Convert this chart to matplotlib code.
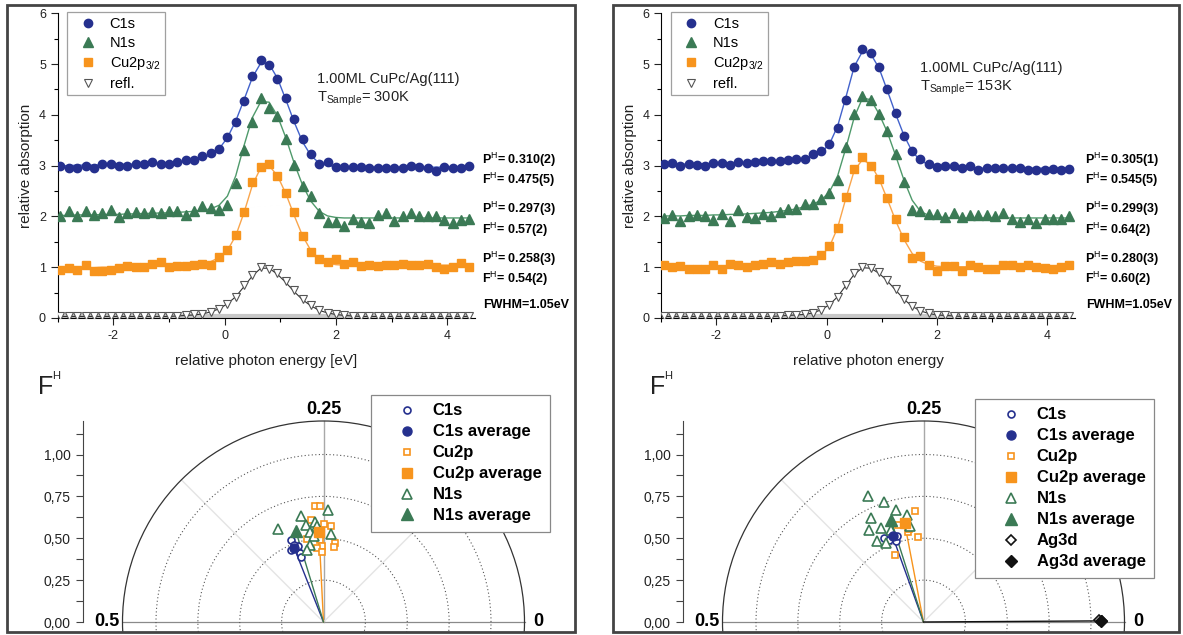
import numpy as np
import matplotlib
matplotlib.use('Agg')
import matplotlib.pyplot as plt
from matplotlib.patches import Rectangle, Circle

plt.rcParams['font.family'] = ['Liberation Sans', 'DejaVu Sans']
plt.rcParams['mathtext.fontset'] = 'custom'
plt.rcParams['mathtext.rm'] = 'Liberation Sans'
plt.rcParams['mathtext.bf'] = 'Liberation Sans:bold'
plt.rcParams['mathtext.it'] = 'Liberation Sans:italic'
plt.rcParams['axes.unicode_minus'] = False

W, H = 1183, 635

# ---------------- spectra (relative photon energy in eV) ----------------
energy = [-2.95, -2.80, -2.65, -2.50, -2.35, -2.20, -2.05, -1.90, -1.75, -1.60,
          -1.45, -1.30, -1.15, -1.00, -0.85, -0.70, -0.55, -0.40, -0.25, -0.10,
          0.05, 0.20, 0.35, 0.50, 0.65, 0.80, 0.95, 1.10, 1.25, 1.40,
          1.55, 1.70, 1.85, 2.00, 2.15, 2.30, 2.45, 2.60, 2.75, 2.90,
          3.05, 3.20, 3.35, 3.50, 3.65, 3.80, 3.95, 4.10, 4.25, 4.40]

# 300K
c1s_300 = [3.00, 2.96, 2.96, 3.00, 2.96, 3.03, 3.03, 3.00, 3.00, 3.04,
           3.04, 3.08, 3.04, 3.04, 3.08, 3.11, 3.11, 3.19, 3.25, 3.33,
           3.57, 3.85, 4.28, 4.77, 5.08, 4.98, 4.70, 4.34, 3.91, 3.52,
           3.23, 3.03, 3.07, 2.98, 2.98, 2.98, 2.98, 2.95, 2.95, 2.95,
           2.95, 2.95, 3.00, 2.97, 2.95, 2.90, 2.98, 2.96, 2.95, 3.00]
c1s_fit_300 = [3.00, 3.00, 3.01, 3.01, 3.01, 3.02, 3.02, 3.02, 3.03, 3.03,
               3.04, 3.04, 3.05, 3.05, 3.06, 3.08, 3.10, 3.14, 3.21, 3.33,
               3.55, 3.88, 4.30, 4.74, 5.02, 5.00, 4.72, 4.30, 3.86, 3.47,
               3.20, 3.05, 3.00, 2.98, 2.97, 2.97, 2.97, 2.97, 2.97, 2.97,
               2.97, 2.97, 2.97, 2.97, 2.97, 2.97, 2.97, 2.97, 2.97, 2.97]
n1s_300 = [2.00, 2.10, 2.00, 2.10, 2.03, 2.07, 2.13, 1.99, 2.07, 2.08,
           2.07, 2.09, 2.07, 2.10, 2.10, 2.03, 2.10, 2.20, 2.16, 2.13,
           2.23, 2.66, 3.30, 3.86, 4.33, 4.13, 3.97, 3.52, 3.02, 2.59,
           2.41, 2.07, 1.89, 1.89, 1.82, 1.95, 1.90, 1.87, 2.03, 2.07,
           1.91, 2.00, 2.07, 2.01, 2.01, 2.00, 1.93, 1.87, 1.93, 1.95]
n1s_fit_300 = [2.02, 2.02, 2.03, 2.03, 2.03, 2.04, 2.04, 2.04, 2.05, 2.05,
               2.06, 2.06, 2.07, 2.07, 2.08, 2.09, 2.10, 2.12, 2.15, 2.22,
               2.40, 2.80, 3.40, 3.95, 4.26, 4.25, 3.98, 3.55, 3.05, 2.62,
               2.30, 2.10, 2.01, 1.98, 1.97, 1.97, 1.97, 1.97, 1.97, 1.97,
               1.97, 1.97, 1.97, 1.97, 1.97, 1.97, 1.97, 1.97, 1.97, 1.97]
cu_300 = [0.95, 0.98, 0.95, 1.04, 0.93, 0.93, 0.95, 0.98, 1.02, 1.00,
          1.00, 1.06, 1.10, 1.00, 1.03, 1.03, 1.04, 1.06, 1.05, 1.21,
          1.34, 1.63, 2.09, 2.68, 2.98, 3.03, 2.79, 2.47, 2.09, 1.61,
          1.30, 1.16, 1.11, 1.17, 1.07, 1.10, 1.02, 1.05, 1.02, 1.04,
          1.04, 1.07, 1.04, 1.04, 1.07, 1.00, 0.97, 1.00, 1.08, 1.00]
cu_fit_300 = [0.98, 0.98, 0.99, 0.99, 0.99, 1.00, 1.00, 1.00, 1.01, 1.01,
              1.01, 1.02, 1.02, 1.03, 1.03, 1.04, 1.05, 1.07, 1.11, 1.19,
              1.33, 1.62, 2.08, 2.62, 2.96, 3.00, 2.80, 2.45, 2.02, 1.62,
              1.33, 1.16, 1.08, 1.05, 1.04, 1.04, 1.04, 1.04, 1.04, 1.04,
              1.04, 1.04, 1.04, 1.04, 1.04, 1.04, 1.04, 1.04, 1.04, 1.04]
refl_300 = [0.03, 0.03, 0.03, 0.03, 0.03, 0.03, 0.03, 0.03, 0.03, 0.03,
            0.03, 0.03, 0.03, 0.04, 0.04, 0.05, 0.07, 0.08, 0.12, 0.18,
            0.27, 0.42, 0.64, 0.84, 1.00, 0.97, 0.88, 0.73, 0.55, 0.38,
            0.25, 0.15, 0.10, 0.07, 0.05, 0.04, 0.03, 0.03, 0.03, 0.03,
            0.03, 0.03, 0.03, 0.03, 0.03, 0.03, 0.03, 0.03, 0.03, 0.03]
refl_fit_300 = [0.03, 0.03, 0.03, 0.03, 0.03, 0.03, 0.03, 0.03, 0.03, 0.03,
                0.03, 0.03, 0.03, 0.03, 0.04, 0.05, 0.06, 0.08, 0.12, 0.18,
                0.28, 0.42, 0.62, 0.83, 0.98, 0.98, 0.86, 0.70, 0.52, 0.36,
                0.24, 0.15, 0.10, 0.07, 0.05, 0.04, 0.03, 0.03, 0.03, 0.03,
                0.03, 0.03, 0.03, 0.03, 0.03, 0.03, 0.03, 0.03, 0.03, 0.03]

# 153K
c1s_153 = [3.04, 3.06, 3.00, 3.04, 3.02, 3.00, 3.05, 3.06, 3.02, 3.08,
           3.05, 3.08, 3.10, 3.10, 3.10, 3.11, 3.14, 3.14, 3.23, 3.29,
           3.43, 3.74, 4.30, 4.94, 5.29, 5.21, 4.94, 4.51, 4.03, 3.59,
           3.29, 3.13, 3.04, 2.97, 3.00, 2.99, 2.95, 2.99, 2.92, 2.96,
           2.96, 2.95, 2.95, 2.95, 2.92, 2.92, 2.92, 2.94, 2.92, 2.94]
c1s_fit_153 = [3.02, 3.02, 3.03, 3.03, 3.03, 3.04, 3.04, 3.05, 3.05, 3.06,
               3.06, 3.07, 3.08, 3.09, 3.10, 3.11, 3.12, 3.14, 3.18, 3.26,
               3.42, 3.78, 4.35, 4.95, 5.25, 5.20, 4.92, 4.48, 4.02, 3.60,
               3.28, 3.10, 3.02, 2.98, 2.97, 2.96, 2.96, 2.95, 2.95, 2.95,
               2.95, 2.95, 2.95, 2.95, 2.95, 2.95, 2.95, 2.95, 2.95, 2.95]
n1s_153 = [1.97, 2.02, 1.91, 2.01, 2.02, 2.01, 1.92, 2.05, 1.91, 2.12,
           1.99, 1.97, 2.04, 2.01, 2.09, 2.14, 2.14, 2.24, 2.24, 2.35,
           2.46, 2.72, 3.36, 4.02, 4.38, 4.30, 4.01, 3.69, 3.23, 2.68,
           2.13, 2.10, 2.05, 2.05, 1.99, 2.07, 1.99, 2.02, 2.02, 2.02,
           2.00, 2.07, 1.95, 1.89, 1.95, 1.87, 1.95, 1.95, 1.94, 2.00]
n1s_fit_153 = [2.01, 2.01, 2.01, 2.02, 2.02, 2.02, 2.03, 2.03, 2.04, 2.04,
               2.05, 2.06, 2.07, 2.08, 2.10, 2.12, 2.15, 2.19, 2.24, 2.32,
               2.48, 2.80, 3.35, 3.95, 4.33, 4.30, 4.02, 3.66, 3.20, 2.72,
               2.32, 2.10, 2.02, 1.99, 1.98, 1.97, 1.97, 1.97, 1.97, 1.97,
               1.97, 1.97, 1.97, 1.97, 1.97, 1.97, 1.97, 1.97, 1.97, 1.97]
cu_153 = [1.05, 1.00, 1.02, 0.96, 0.97, 0.97, 1.04, 0.97, 1.07, 1.04,
          1.00, 1.04, 1.07, 1.10, 1.07, 1.10, 1.12, 1.12, 1.15, 1.25,
          1.42, 1.77, 2.38, 2.94, 3.17, 3.00, 2.74, 2.36, 1.94, 1.59,
          1.19, 1.22, 1.04, 0.92, 1.02, 1.02, 0.92, 1.05, 1.00, 0.96,
          0.96, 1.04, 1.05, 1.00, 1.04, 1.00, 0.98, 0.97, 1.00, 1.04]
cu_fit_153 = [1.00, 1.00, 1.00, 1.01, 1.01, 1.01, 1.02, 1.02, 1.03, 1.03,
              1.04, 1.05, 1.06, 1.07, 1.08, 1.09, 1.10, 1.12, 1.15, 1.22,
              1.40, 1.78, 2.36, 2.90, 3.12, 3.02, 2.74, 2.34, 1.92, 1.55,
              1.27, 1.12, 1.05, 1.02, 1.01, 1.01, 1.01, 1.01, 1.01, 1.01,
              1.01, 1.01, 1.01, 1.01, 1.01, 1.01, 1.01, 1.01, 1.01, 1.01]
refl_153 = [0.03, 0.03, 0.03, 0.03, 0.03, 0.03, 0.03, 0.03, 0.03, 0.03,
            0.03, 0.03, 0.03, 0.04, 0.04, 0.05, 0.06, 0.07, 0.10, 0.15,
            0.25, 0.42, 0.65, 0.88, 1.00, 0.98, 0.90, 0.75, 0.57, 0.38,
            0.24, 0.14, 0.09, 0.06, 0.05, 0.04, 0.03, 0.03, 0.03, 0.03,
            0.03, 0.03, 0.03, 0.03, 0.03, 0.03, 0.03, 0.03, 0.03, 0.03]
refl_fit_153 = [0.03, 0.03, 0.03, 0.03, 0.03, 0.03, 0.03, 0.03, 0.03, 0.03,
                0.03, 0.03, 0.03, 0.03, 0.04, 0.05, 0.06, 0.07, 0.10, 0.16,
                0.26, 0.42, 0.64, 0.86, 0.99, 0.98, 0.88, 0.73, 0.55, 0.37,
                0.23, 0.14, 0.09, 0.06, 0.05, 0.04, 0.03, 0.03, 0.03, 0.03,
                0.03, 0.03, 0.03, 0.03, 0.03, 0.03, 0.03, 0.03, 0.03, 0.03]
refl_base = 0.03

# fit results printed next to the spectra
ph_text_300 = ['0.310(2)', '0.297(3)', '0.258(3)']
fh_text_300 = ['0.475(5)', '0.57(2)', '0.54(2)']
ph_text_153 = ['0.305(1)', '0.299(3)', '0.280(3)']
fh_text_153 = ['0.545(5)', '0.64(2)', '0.60(2)']

# ---------------- polar plot data (P^H = angle, F^H = radius) ----------------
c1s_P_300 = [0.310, 0.317, 0.302, 0.303, 0.303, 0.309]
c1s_F_300 = [0.524, 0.473, 0.477, 0.435, 0.410, 0.494]
cu_P_300 = [0.261, 0.255, 0.270, 0.249, 0.238, 0.282, 0.256, 0.253, 0.226, 0.228, 0.264, 0.253]
cu_F_300 = [0.697, 0.695, 0.616, 0.585, 0.577, 0.505, 0.491, 0.451, 0.476, 0.455, 0.443, 0.415]
n1s_P_300 = [0.243, 0.284, 0.322, 0.278, 0.263, 0.261, 0.274, 0.237, 0.268, 0.277, 0.287]
n1s_F_300 = [0.668, 0.646, 0.618, 0.590, 0.597, 0.576, 0.541, 0.527, 0.518, 0.468, 0.439]
avg_P_300 = [0.310, 0.258, 0.297]   # C1s, Cu2p, N1s
avg_F_300 = [0.475, 0.54, 0.57]

c1s_P_153 = [0.320, 0.313, 0.303, 0.297]
c1s_F_153 = [0.554, 0.532, 0.509, 0.534]
cu_P_153 = [0.262, 0.291, 0.278, 0.261, 0.314, 0.274]
cu_F_153 = [0.667, 0.601, 0.544, 0.508, 0.436, 0.562]
n1s_P_153 = [0.316, 0.301, 0.288, 0.324, 0.274, 0.317, 0.335, 0.332, 0.321, 0.272, 0.304]
n1s_F_153 = [0.823, 0.753, 0.686, 0.694, 0.648, 0.614, 0.636, 0.559, 0.522, 0.581, 0.585]
ag_P_153 = [0.002, 0.001]
ag_F_153 = [1.050, 1.066]
avg_P_153 = [0.305, 0.280, 0.299, 0.001]   # C1s, Cu2p, N1s, Ag3d
avg_F_153 = [0.545, 0.60, 0.64, 1.058]

rings = [0.25, 0.5, 0.75, 1.0]
outer_ring = 1.2
guide_P = [0.125, 0.375]
ytick_vals = [0.0, 0.25, 0.5, 0.75, 1.0]
ytick_text = ['0,00', '0,25', '0,50', '0,75', '1,00']

BLUE = '#25308e'
GREEN = '#3b7a55'
ORANGE = '#f7941d'
BLACK = '#111111'
FIT_BLUE = '#4262cc'
FIT_GREEN = '#4f9a6b'
FIT_ORANGE = '#f9a54c'

fig = plt.figure(figsize=(W / 100, H / 100), dpi=100)


def px_axes(x0, y0, x1, y1):
    return fig.add_axes([x0 / W, 1 - y1 / H, (x1 - x0) / W, (y1 - y0) / H])


def px_text(x, y, s, **kw):
    return fig.text(x / W, 1 - y / H, s, **kw)


def draw_spectra(ax, c1s, c1s_fit, n1s, n1s_fit, cu, cu_fit, refl, refl_fit, xlabel):
    ax.plot(energy, [refl_base] * len(energy), color='#c8c8c8', lw=3, zorder=1)
    ax.plot(energy, refl_fit, color='#333333', lw=0.8, zorder=2)
    ax.plot(energy, cu_fit, color=FIT_ORANGE, lw=1.0, zorder=2)
    ax.plot(energy, n1s_fit, color=FIT_GREEN, lw=1.0, zorder=2)
    ax.plot(energy, c1s_fit, color=FIT_BLUE, lw=1.0, zorder=2)
    ax.plot(energy, refl, 'v', ms=6, mfc='white', mec='#555555', mew=0.8, ls='none', zorder=3, label='refl.')
    ax.plot(energy, cu, 's', ms=5.2, color=ORANGE, ls='none', zorder=3, label='Cu2p$_{3/2}$')
    ax.plot(energy, n1s, '^', ms=6.5, color=GREEN, ls='none', zorder=3, label='N1s')
    ax.plot(energy, c1s, 'o', ms=6, color=BLUE, ls='none', zorder=3, label='C1s')

    ax.set_xlim(-3, 4.5)
    ax.set_ylim(0, 6)
    ax.set_xticks([-2, 0, 2, 4])
    ax.set_xticks([-3, -1, 1, 3], minor=True)
    ax.set_yticks([0, 1, 2, 3, 4, 5, 6])
    ax.set_yticks([0.5, 1.5, 2.5, 3.5, 4.5, 5.5], minor=True)
    ax.tick_params(which='major', direction='out', length=5, width=0.8, labelsize=9, colors='#222222')
    ax.tick_params(which='minor', direction='out', length=3, width=0.8)
    for s in ['top', 'right']:
        ax.spines[s].set_visible(False)
    for s in ['left', 'bottom']:
        ax.spines[s].set_linewidth(0.8)
    ax.set_xlabel(xlabel, fontsize=11, labelpad=9, color='#222222')
    ax.set_ylabel('relative absorption', fontsize=11, labelpad=4, color='#222222')
    ax.patch.set_alpha(0)

    handles, labels = ax.get_legend_handles_labels()
    leg = ax.legend(handles[::-1], labels[::-1], loc='upper left', bbox_to_anchor=(0.023, 1.003),
                    borderaxespad=0, fontsize=10.5, frameon=True, fancybox=False,
                    edgecolor='#888888', borderpad=0.3, handlelength=2.2, handletextpad=0.4,
                    labelspacing=0.35)
    leg.get_frame().set_linewidth(0.9)


def polar_xy(P, F):
    P = np.asarray(P)
    F = np.asarray(F)
    return F * np.cos(2 * np.pi * P), F * np.sin(2 * np.pi * P)


def draw_polar(ax, cx, x0, x1, series, avgP, avgF, avg_colors):
    unit = 167.5
    ax.set_xlim((x0 - cx) / unit, (x1 - cx) / unit)
    ax.set_ylim(-10 / unit, 242 / unit)

    # guides
    ax.plot([-outer_ring, outer_ring], [0, 0], color='#8a8a8a', lw=0.9, zorder=1)
    gx, gy = polar_xy([0.25], [outer_ring])
    ax.plot([0, gx[0]], [0, gy[0]], color='#a8a8a8', lw=1.0, zorder=1)
    for p in guide_P:
        gx, gy = polar_xy([p], [outer_ring])
        ax.plot([0, gx[0]], [0, gy[0]], color='#e4e4e4', lw=1.0, zorder=1)
    for r in rings:
        ax.add_patch(Circle((0, 0), r, fill=False, ls=(0, (1, 2.2)), lw=0.8, ec='#555555', zorder=1))
    ax.add_patch(Circle((0, 0), outer_ring, fill=False, lw=0.9, ec='#333333', zorder=1))

    # lines to the averages
    ax_, ay_ = polar_xy(avgP, avgF)
    for xx, yy, c in zip(ax_, ay_, avg_colors):
        ax.plot([0, xx], [0, yy], color=c, lw=1.0, zorder=2)

    handles = []
    labels = []
    for (name, P, F, marker, color, ms) in series:
        xs, ys = polar_xy(P, F)
        h, = ax.plot(xs, ys, marker, ls='none', ms=ms, mfc='white', mec=color, mew=1.2, zorder=3)
        handles.append(h)
        labels.append(name)
    for i, (name, P, F, marker, color, ms) in enumerate(series):
        h, = ax.plot([ax_[i]], [ay_[i]], marker, ls='none', ms=ms + 1.5, color=color, zorder=4)
        handles.insert(2 * i + 1, h)
        labels.insert(2 * i + 1, name + ' average')

    ax.spines['left'].set_bounds(0, outer_ring)
    ax.spines['left'].set_linewidth(0.8)
    ax.spines['left'].set_color('#444444')
    for s in ['top', 'right', 'bottom']:
        ax.spines[s].set_visible(False)
    ax.set_xticks([])
    ax.set_yticks(ytick_vals)
    ax.set_yticklabels(ytick_text)
    ax.set_yticks([0.125, 0.375, 0.625, 0.875, 1.125], minor=True)
    ax.tick_params(axis='y', which='major', direction='out', length=5, width=0.8, labelsize=10,
                   colors='#444444', labelcolor='#222222', pad=4)
    ax.tick_params(axis='y', which='minor', direction='out', length=5, width=0.8, colors='#444444')
    ax.patch.set_alpha(0)

    ax.text(0, outer_ring + 0.02, '0.25', ha='center', va='bottom', fontsize=13, fontweight='bold')
    ax.text(-outer_ring - 0.02, 0, '0.5', ha='right', va='center', fontsize=13, fontweight='bold')
    ax.text(outer_ring + 0.05, 0, '0', ha='left', va='center', fontsize=13, fontweight='bold')

    leg = ax.legend(handles, labels, loc='upper left', borderaxespad=0,
                    prop={'weight': 'bold', 'size': 12}, fancybox=False,
                    edgecolor='#888888', borderpad=0.5, handlelength=3.3, handletextpad=-0.1,
                    labelspacing=0.36, framealpha=1)
    leg.get_frame().set_linewidth(0.9)
    return leg


# ---------------- top spectra ----------------
ax1 = px_axes(57.7, 13.3, 475, 318)
draw_spectra(ax1, c1s_300, c1s_fit_300, n1s_300, n1s_fit_300, cu_300, cu_fit_300,
             refl_300, refl_fit_300, 'relative photon energy [eV]')
ax2 = px_axes(661, 13.3, 1075, 318)
draw_spectra(ax2, c1s_153, c1s_fit_153, n1s_153, n1s_fit_153, cu_153, cu_fit_153,
             refl_153, refl_fit_153, 'relative photon energy')

px_text(317, 83, '1.00ML CuPc/Ag(111)', fontsize=10.5, va='baseline', color='#222222')
px_text(317, 102, r'T$_{\mathrm{Sample}}$= 300K', fontsize=10.5, va='baseline', color='#222222')
px_text(920, 72, '1.00ML CuPc/Ag(111)', fontsize=10.5, va='baseline', color='#222222')
px_text(920, 91, r'T$_{\mathrm{Sample}}$= 153K', fontsize=10.5, va='baseline', color='#222222')

for x, ph_list, fh_list in [(482, ph_text_300, fh_text_300), (1085, ph_text_153, fh_text_153)]:
    for k, (ph, fh) in enumerate(zip(ph_list, fh_list)):
        base = 164 + 49.5 * k
        px_text(x, base, r'P$^{\mathrm{H}}$= ' + ph, fontsize=9, fontweight='bold', va='baseline')
        px_text(x, base + 20, r'F$^{\mathrm{H}}$= ' + fh, fontsize=9, fontweight='bold', va='baseline')
    px_text(x + 1, 308, 'FWHM=1.05eV', fontsize=9, fontweight='bold', va='baseline')

# ---------------- bottom polar plots ----------------
pax1 = px_axes(83.5, 380, 575, 632)
series_300 = [('C1s', c1s_P_300, c1s_F_300, 'o', BLUE, 5),
              ('Cu2p', cu_P_300, cu_F_300, 's', ORANGE, 5),
              ('N1s', n1s_P_300, n1s_F_300, '^', GREEN, 6.5)]
leg = draw_polar(pax1, 323.5, 83.5, 575, series_300, avg_P_300, avg_F_300, [BLUE, ORANGE, GREEN])
leg.set_bbox_to_anchor(((371 - 83.5) / 491.5, (632 - 395) / 252), transform=pax1.transAxes)

pax2 = px_axes(683, 380, 1179, 632)
series_153 = [('C1s', c1s_P_153, c1s_F_153, 'o', BLUE, 5),
              ('Cu2p', cu_P_153, cu_F_153, 's', ORANGE, 5),
              ('N1s', n1s_P_153, n1s_F_153, '^', GREEN, 6.5),
              ('Ag3d', ag_P_153, ag_F_153, 'D', BLACK, 5)]
leg = draw_polar(pax2, 923.5, 683, 1179, series_153, avg_P_153, avg_F_153, [BLUE, ORANGE, GREEN, BLACK])
leg.set_bbox_to_anchor(((975 - 683) / 496, (632 - 399) / 252), transform=pax2.transAxes)

for x in [38, 650]:
    px_text(x, 394, 'F', fontsize=18, va='baseline', color='#222222')
    px_text(x + 14, 379, 'H', fontsize=8, va='baseline', color='#222222')

# panel frames
for x0, x1 in [(7, 575), (613, 1179)]:
    fig.add_artist(Rectangle((x0 / W, 1 - 632 / H), (x1 - x0) / W, 627 / H, transform=fig.transFigure,
                             fill=False, ec='#444444', lw=2))

fig.savefig('out.png', dpi=100)
